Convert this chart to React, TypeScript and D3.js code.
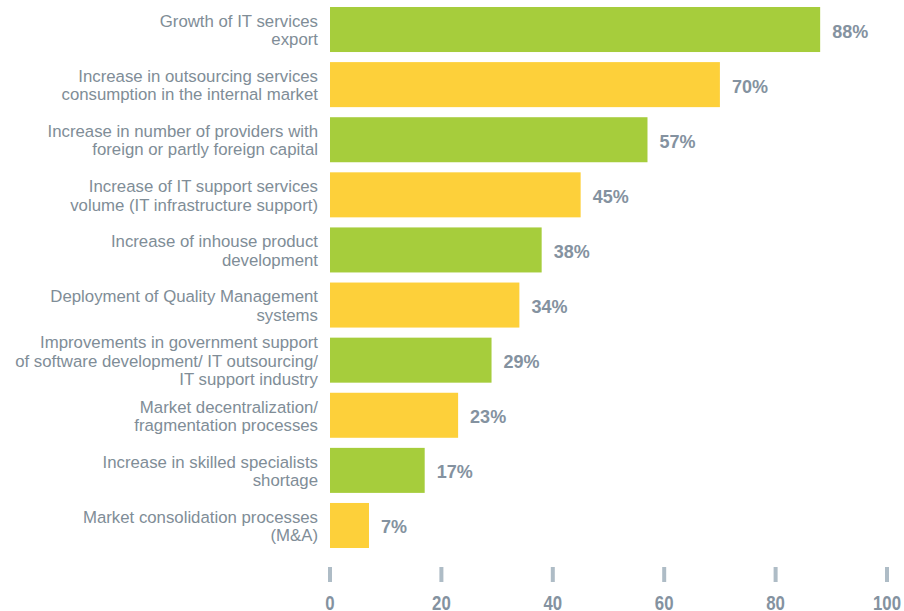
import React from "react";
import * as d3 from "d3";

const categories: string[][] = [
  ["Growth of IT services", "export"],
  ["Increase in outsourcing services", "consumption in the internal market"],
  ["Increase in number of providers with", "foreign or partly foreign capital"],
  ["Increase of IT support services", "volume (IT infrastructure support)"],
  ["Increase of inhouse product", "development"],
  ["Deployment of Quality Management", "systems"],
  ["Improvements in government support", "of software development/ IT outsourcing/", "IT support industry"],
  ["Market decentralization/", "fragmentation processes"],
  ["Increase in skilled specialists", "shortage"],
  ["Market consolidation processes", "(M&A)"],
];
const values: number[] = [88, 70, 57, 45, 38, 34, 29, 23, 17, 7];
const tickValues: number[] = [0, 20, 40, 60, 80, 100];
const colors = ["#a6cd3c", "#fdd03a"];

export default function App() {
  const W = 904, H = 611;
  const x = d3.scaleLinear().domain([0, 100]).range([330, 887]);
  const y = d3
    .scaleBand<number>()
    .domain(d3.range(values.length))
    .range([7, 548])
    .paddingInner(0.183)
    .paddingOuter(0);
  const bw = y.bandwidth();
  const labelColor = "#808d97";
  const valColor = "#8492a0";
  return (
    <svg
      width={W}
      height={H}
      style={{ position: "absolute", left: 0, top: 0, background: "#fff" }}
      fontFamily="'Liberation Sans', Arial, sans-serif"
    >
      {values.map((v, i) => {
        const y0 = y(i)!;
        const cy = y0 + bw / 2;
        const lines = categories[i];
        const lh = 18.5;
        const start = cy - ((lines.length - 1) * lh) / 2 + 6.5;
        return (
          <g key={i}>
            <rect x={x(0)} y={y0} width={x(v) - x(0)} height={bw} fill={colors[i % 2]} />
            <text x={x(v) + 12} y={cy + 8} fontSize={18} fontWeight="bold" fill={valColor}>
              {v}%
            </text>
            {lines.map((l, j) => (
              <text
                key={j}
                x={318}
                y={start + j * lh}
                textAnchor="end"
                fontSize={16.8}
                fill={labelColor}
              >
                {l}
              </text>
            ))}
          </g>
        );
      })}
      {tickValues.map((t) => (
        <g key={t}>
          <rect x={x(t) - 2} y={567} width={4} height={15} fill="#aebcc6" />
          <text
            transform={`translate(${x(t)},610) scale(0.84,1)`}
            textAnchor="middle"
            fontSize={20}
            fontWeight="bold"
            fill={valColor}
          >
            {t}
          </text>
        </g>
      ))}
    </svg>
  );
}
